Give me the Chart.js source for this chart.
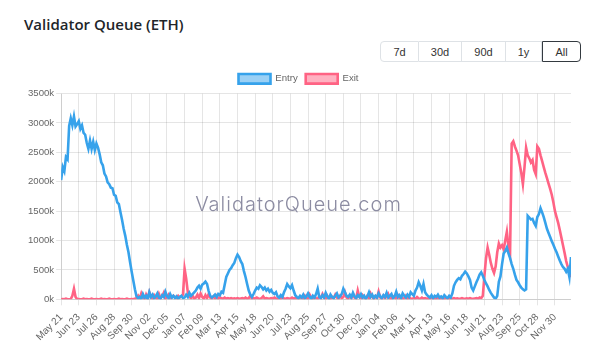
<!DOCTYPE html>
<html>
<head>
<meta charset="utf-8">
<script src="https://cdn.jsdelivr.net/npm/chart.js@4.4.1/dist/chart.umd.min.js"></script>
<style>
  body { margin: 0; background: #fff; width: 610px; height: 351px; overflow: hidden; position: relative; }
  h2 { position: absolute; left: 24px; top: 14px; margin: 0; font: 600 15px "Open Sans", sans-serif; color: #212529; }
  .range { position: absolute; left: 380px; top: 41px; display: flex; height: 21px; }
  .range button {
    height: 21px; padding: 0; margin: 0; background: #fff; color: #333;
    font: 11px "Liberation Sans", Arial, sans-serif;
    border: 1px solid #dee2e6; border-left: none;
  }
  .range button:first-child { border-left: 1px solid #dee2e6; border-radius: 4px 0 0 4px; }
  .range button.active { border: 1px solid #343a40; border-radius: 0 4px 4px 0; }
  #wrap { position: absolute; left: 26px; top: 66px; width: 545px; height: 283px; }
</style>
</head>
<body>
<h2>Validator Queue (ETH)</h2>
<div class="range">
  <button style="width:39px">7d</button>
  <button style="width:43px">30d</button>
  <button style="width:44px">90d</button>
  <button style="width:36px">1y</button>
  <button class="active" style="width:39px">All</button>
</div>
<div id="wrap"><canvas id="myChart"></canvas></div>
<script>
// one sample every 3 days starting May 21 2023, values in thousands of ETH
const DAYS_PER_SAMPLE = 3;
const DAYS_PER_TICK = 33;

const tickLabels = ['May 21','Jun 23','Jul 26','Aug 28','Sep 30','Nov 02','Dec 05','Jan 07','Feb 09','Mar 13',
  'Apr 15','May 18','Jun 20','Jul 23','Aug 25','Sep 27','Oct 30','Dec 02','Jan 04','Feb 06',
  'Mar 11','Apr 13','May 16','Jun 18','Jul 21','Aug 23','Sep 25','Oct 28','Nov 30'];

const entry = [
  2030, 2250, 2180, 2420, 2380, 2950, 3080, 2960, 3110, 2940,
  2980, 3030, 2900, 2960, 2830, 2800, 2660, 2560, 2700, 2560,
  2680, 2540, 2650, 2580, 2470, 2330, 2280, 2140, 2090, 1990,
  1960, 1900, 1890, 1780, 1760, 1650, 1620, 1480, 1350, 1200,
  1080, 930, 800, 630, 470, 320, 170, 50,
  20, 40, 10, 90, 30, 60, 0, 120, 40, 80, 20, 50,
  100, 30, 10, 70, 40, 130, 50, 20, 90, 30,
  60, 20, 50, 10, 40, 60, 20, 30, 80, 40,
  110, 60, 90, 120, 150, 200, 230, 180, 250, 270,
  300, 260, 140, 60, 30, 50, 80, 40, 90, 70,
  130, 110, 250, 380, 440, 500, 530, 580, 620, 700,
  760, 720, 650, 600, 480, 380, 260, 150, 80, 40,
  90, 150, 200, 180, 240, 210, 170, 200, 150, 180,
  130, 160, 110, 90, 120, 50, 30, 70, 40, 120,
  180, 260, 220, 190, 240, 150, 70, 40, 20, 60,
  30, 80, 20, 50, 100, 40, 10, 60, 30, 90,
  180, 40, 20, 70, 30, 110, 50, 10, 80, 40,
  20, 60, 100, 30, 50, 90, 180, 120, 60, 40,
  80, 30, 110, 50, 20, 70, 40, 90, 30, 60,
  10, 50, 120, 40, 80, 20, 60, 30, 100, 50,
  20, 70, 40, 110, 30, 60, 90, 20, 50, 130,
  40, 70, 20, 100, 60, 30, 80, 40, 120, 90,
  60, 150, 200, 290, 230, 150, 260, 120, 80, 50,
  30, 70, 20, 60, 40, 80, 30, 50, 20, 70,
  40, 20, 60, 30, 100, 230, 290, 330, 360, 340,
  400, 430, 470, 440, 390, 330, 200, 150, 220, 290,
  350, 420, 460, 400, 330, 270, 220, 160, 110, 70,
  30, 10, 60, 300, 390, 600, 780, 820, 880, 780,
  700, 600, 520, 420, 330, 290, 240, 200, 170, 150,
  170, 1420, 1390, 1360, 1370, 1300, 1250, 1400, 1450, 1550,
  1480, 1400, 1300, 1200, 1130, 1060, 990, 930, 860, 800,
  730, 660, 600, 550, 520, 470, 520, 380, 720
];

const exit = [
  0, 5, 0, 10, 0, 0, 5, 60, 180, 40,
  0, 5, 0, 0, 10, 0, 5, 0, 0, 10,
  0, 0, 5, 0, 0, 10, 0, 5, 0, 0,
  10, 0, 0, 5, 0, 0, 10, 0, 5, 0,
  0, 10, 0, 0, 5, 0, 10,
  20, 60, 10, 100, 30, 0, 80, 20, 120, 40, 10, 70, 30,
  0, 90, 20, 50, 110, 10, 40, 80, 20, 30,
  60, 40, 20, 60, 30, 50, 80, 520, 350, 120,
  40, 20, 60, 10, 30, 80, 20, 100, 40, 10,
  70, 20, 90, 30, 10, 50, 20, 60, 10, 30,
  20, 10, 30, 10, 20, 10, 20, 10, 15, 10,
  20, 10, 15, 20, 10, 30, 10, 20, 60, 10,
  20, 10, 30, 15, 10, 20, 50, 10, 20, 15,
  10, 20, 10, 30, 15, 10, 20, 10, 40, 15,
  10, 20, 15, 10, 30, 10, 20, 15, 10, 20,
  30, 10, 60, 20, 10, 80, 30, 10, 40, 20,
  10, 50, 20, 90, 30, 10, 60, 20, 10, 40,
  20, 80, 30, 10, 60, 20, 40, 120, 30, 10,
  50, 20, 90, 30, 10, 150, 40, 20, 70, 30,
  10, 60, 20, 100, 40, 10, 50, 20, 130, 30,
  10, 60, 20, 40, 90, 20, 10, 50, 30, 10,
  70, 20, 40, 10, 20, 60, 10, 30, 15, 10,
  20, 10, 40, 15, 10, 30, 10, 20, 10, 15,
  10, 20, 10, 15, 10, 20, 10, 10, 15, 10,
  20, 10, 15, 10, 10, 20, 10, 15, 10, 10,
  20, 10, 10, 15, 10, 20, 10, 10, 15, 20,
  10, 30, 20, 60, 400, 700, 880, 760, 620, 520,
  450, 560, 800, 950, 880, 920, 850, 1000, 1150, 900,
  780, 2650, 2690, 2600, 2530, 2450, 2300, 2150, 1960, 2250,
  2580, 2450, 2400, 2330, 2370, 2200, 2130, 2600, 2560, 2450,
  2350, 2250, 2150, 2060, 1970, 1880, 1780, 1650, 1500, 1400,
  1300, 1180, 1050, 920, 790, 650, 550, 450, 380
];

const toPoints = (arr) => arr.map((v, i) => ({ x: i * DAYS_PER_SAMPLE, y: v }));

const watermark = {
  id: 'watermark',
  beforeDatasetsDraw(chart) {
    const { ctx, width } = chart;
    ctx.save();
    ctx.font = '300 20px Inter';
    ctx.letterSpacing = '1px';
    ctx.fillStyle = 'rgb(140,140,162)';
    ctx.textAlign = 'center';
    ctx.textBaseline = 'middle';
    ctx.fillText('ValidatorQueue.com', width / 2, 139);
    ctx.restore();
  }
};

Chart.defaults.font.family = '"Liberation Sans", Arial, sans-serif';
Chart.defaults.font.size = 9.6;
Chart.defaults.color = '#666';

const ctx = document.getElementById('myChart');

new Chart(ctx, {
  type: 'line',
  plugins: [watermark],
  data: {
    datasets: [
      {
        label: 'Entry',
        data: toPoints(entry),
        borderColor: 'rgb(54, 162, 235)',
        backgroundColor: 'rgba(54, 162, 235, 0.5)',
        borderWidth: 2.6,
        pointRadius: 0,
        tension: 0,
      },
      {
        label: 'Exit',
        data: toPoints(exit),
        borderColor: 'rgb(255, 99, 132)',
        backgroundColor: 'rgba(255, 99, 132, 0.5)',
        borderWidth: 2.6,
        pointRadius: 0,
        tension: 0,
      },
    ],
  },
  options: {
    responsive: true,
    maintainAspectRatio: false,
    animation: false,
    plugins: {
      legend: {
        labels: { boxWidth: 32, boxHeight: 9.6, padding: 8 },
      },
      tooltip: { enabled: false },
    },
    scales: {
      x: {
        type: 'linear',
        min: 0,
        max: (entry.length - 1) * DAYS_PER_SAMPLE,
        grid: { tickLength: 6 },
        ticks: {
          font: { size: 10 },
          stepSize: DAYS_PER_TICK,
          includeBounds: false,
          autoSkip: false,
          minRotation: 45,
          maxRotation: 45,
          padding: 6,
          callback: (v) => tickLabels[Math.round(v / DAYS_PER_TICK)],
        },
      },
      y: {
        min: 0,
        max: 3500,
        grid: { tickLength: 5 },
        ticks: {
          stepSize: 500,
          padding: 2,
          callback: (v) => v + 'k',
        },
      },
    },
  },
});
</script>
</body>
</html>
